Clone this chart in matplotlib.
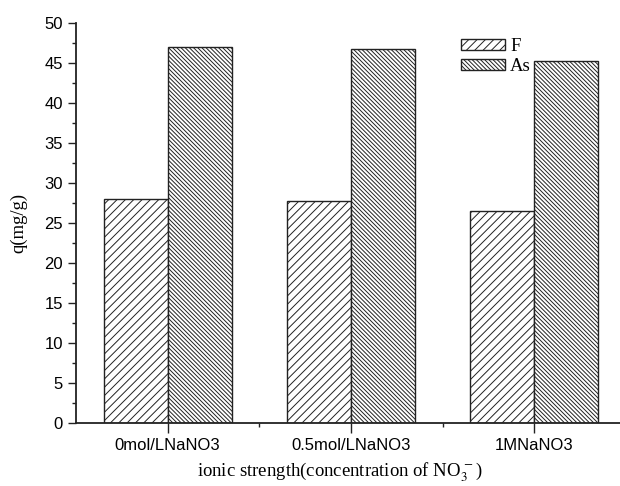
import matplotlib
matplotlib.use("Agg")
import matplotlib.pyplot as plt
import numpy as np
from matplotlib.ticker import MultipleLocator

categories = ["0mol/LNaNO3", "0.5mol/LNaNO3", "1MNaNO3"]
f_values = [28.0, 27.7, 26.5]
as_values = [47.0, 46.7, 45.2]

plt.rcParams["hatch.linewidth"] = 0.7
plt.rcParams["mathtext.fontset"] = "stix"

fig = plt.figure(figsize=(6.2, 4.86), dpi=100)
ax = fig.add_axes([0.1226, 0.1296, 0.887, 0.823])

x = np.arange(len(categories))
w = 0.35
ax.bar(x - w / 2, f_values, w, color="white", edgecolor="#222222",
       linewidth=1.0, hatch="////", label="F")
ax.bar(x + w / 2, as_values, w, color="white", edgecolor="#222222",
       linewidth=1.0, hatch="\\" * 8, label="As")

ax.set_xlim(-0.5, 2.5)
ax.set_ylim(0, 50)
ax.set_xticks(x)
ax.set_xticklabels(categories, family="Liberation Sans", fontsize=12)
ax.set_xticks([0.5, 1.5], minor=True)
ax.yaxis.set_major_locator(MultipleLocator(5))
ax.yaxis.set_minor_locator(MultipleLocator(2.5))
for lab in ax.get_yticklabels():
    lab.set_family("Liberation Sans")
    lab.set_fontsize(12)

ax.tick_params(which="major", direction="out", length=6, width=1.0, color="#222222")
ax.tick_params(which="minor", direction="out", length=3, width=1.0, color="#222222")
ax.tick_params(axis="x", which="major", length=7)

for s in ["top", "right"]:
    ax.spines[s].set_visible(False)
for s in ["left", "bottom"]:
    ax.spines[s].set_linewidth(1.3)
    ax.spines[s].set_color("#222222")

ax.set_xlabel("ionic strength(concentration of NO$_3^{\\,-}$)",
              family="Liberation Serif", fontsize=13.5)
ax.xaxis.set_label_coords(0.48, -0.095)
ax.set_ylabel("q(mg/g)", family="Liberation Serif", fontsize=13.5, labelpad=12)

ax.legend(loc="upper left", bbox_to_anchor=(452 / 620, 1 - 29 / 486),
          bbox_transform=fig.transFigure, frameon=False, borderpad=0,
          handlelength=2.3, handleheight=0.55, handletextpad=0.3,
          labelspacing=0.15, prop={"family": "Liberation Serif", "size": 13.5})

fig.savefig("out.png", dpi=100)
